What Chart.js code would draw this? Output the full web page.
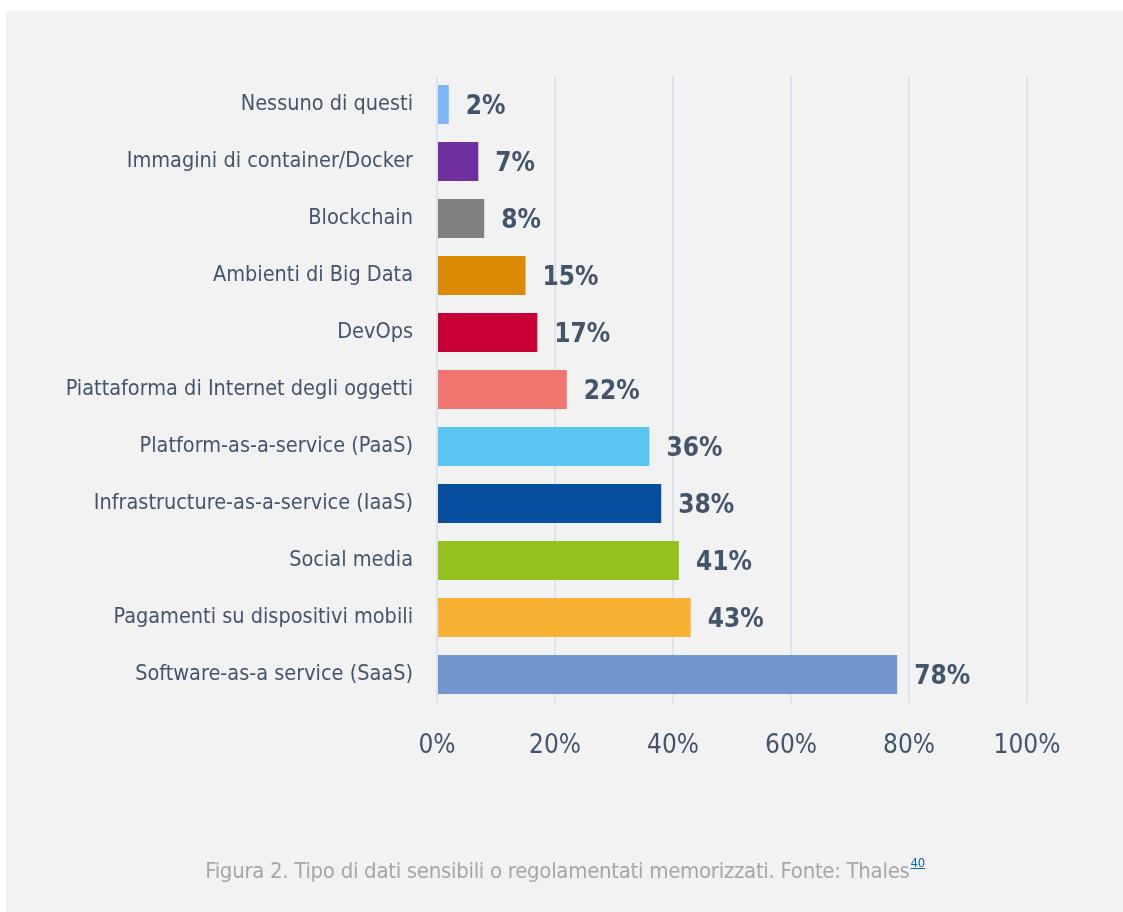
<!DOCTYPE html>
<html>
<head>
<meta charset="utf-8">
<script src="https://cdn.jsdelivr.net/npm/chart.js@4"></script>
<style>
  html, body { margin: 0; padding: 0; background: #ffffff; }
  body { width: 1123px; height: 912px; position: relative; overflow: hidden; }
  #panel { position: absolute; left: 6px; top: 11px; width: 1117px; height: 901px; background: #F2F2F2; }
  #wrap { position: absolute; left: 0; top: 0; width: 1123px; height: 912px; }
  #caption { position: absolute; left: 0; top: 858px; width: 1130px; text-align: center;
    font-family: "Liberation Sans Narrow", "DejaVu Sans Condensed", sans-serif; font-size: 22px;
    color: #A6A6A6; letter-spacing: -0.3px; white-space: nowrap; }
  #caption sup { color: #0563C1; text-decoration: underline; font-size: 13px; position: relative; top: -3px; margin-left: 1px; }
</style>
</head>
<body>
<div id="panel"></div>
<div id="wrap"><canvas id="c" width="1123" height="912"></canvas></div>
<div id="caption">Figura 2. Tipo di dati sensibili o regolamentati memorizzati. Fonte: Thales<sup>40</sup></div>
<script>
const categories = [
  "Nessuno di questi",
  "Immagini di container/Docker",
  "Blockchain",
  "Ambienti di Big Data",
  "DevOps",
  "Piattaforma di Internet degli oggetti",
  "Platform-as-a-service (PaaS)",
  "Infrastructure-as-a-service (IaaS)",
  "Social media",
  "Pagamenti su dispositivi mobili",
  "Software-as-a service (SaaS)"
];
const values = [2, 7, 8, 15, 17, 22, 36, 38, 41, 43, 78];
const barColors = ["#7EB6F8", "#7030A0", "#808080", "#DA8A05", "#C80036", "#F0756E",
  "#5BC5F2", "#074E9F", "#95C11F", "#F8B133", "#7396CF"];
const xTicks = [0, 20, 40, 60, 80, 100];

const textColor = "#44546A";
const condensed = "'Liberation Sans Narrow', 'DejaVu Sans Condensed', sans-serif";

const valueLabels = {
  id: "valueLabels",
  afterDatasetsDraw(chart) {
    const ctx = chart.ctx;
    const meta = chart.getDatasetMeta(0);
    ctx.save();
    ctx.fillStyle = textColor;
    ctx.font = "bold 26px " + condensed;
    ctx.textAlign = "left";
    ctx.textBaseline = "middle";
    meta.data.forEach((bar, i) => {
      ctx.fillText(values[i] + "%", bar.x + 17, bar.y + 3);
    });
    ctx.restore();
  }
};

new Chart(document.getElementById("c"), {
  type: "bar",
  data: {
    labels: categories,
    datasets: [{
      data: values,
      backgroundColor: barColors,
      borderWidth: 0,
      barPercentage: 0.684,
      categoryPercentage: 1
    }]
  },
  options: {
    indexAxis: "y",
    responsive: false,
    animation: false,
    devicePixelRatio: 1,
    layout: { padding: { left: 0, right: 96, top: 76, bottom: 0 } },
    plugins: { legend: { display: false }, tooltip: { enabled: false } },
    scales: {
      x: {
        min: 0, max: 100,
        afterBuildTicks(scale) { scale.ticks = xTicks.map(v => ({ value: v })); },
        afterFit(scale) { scale.height = 912 - 703; },
        grid: { color: "#DCE3EB", lineWidth: 2, drawTicks: false },
        border: { display: false },
        ticks: {
          padding: 28,
          color: textColor,
          font: { family: condensed, size: 26 },
          callback: v => v + "%"
        }
      },
      y: {
        afterFit(scale) { scale.width = 437; },
        grid: { display: false, drawTicks: false },
        border: { display: false },
        ticks: {
          padding: 24,
          color: textColor,
          font: { family: condensed, size: 21.5 }
        }
      }
    }
  },
  plugins: [valueLabels]
});
</script>
</body>
</html>
